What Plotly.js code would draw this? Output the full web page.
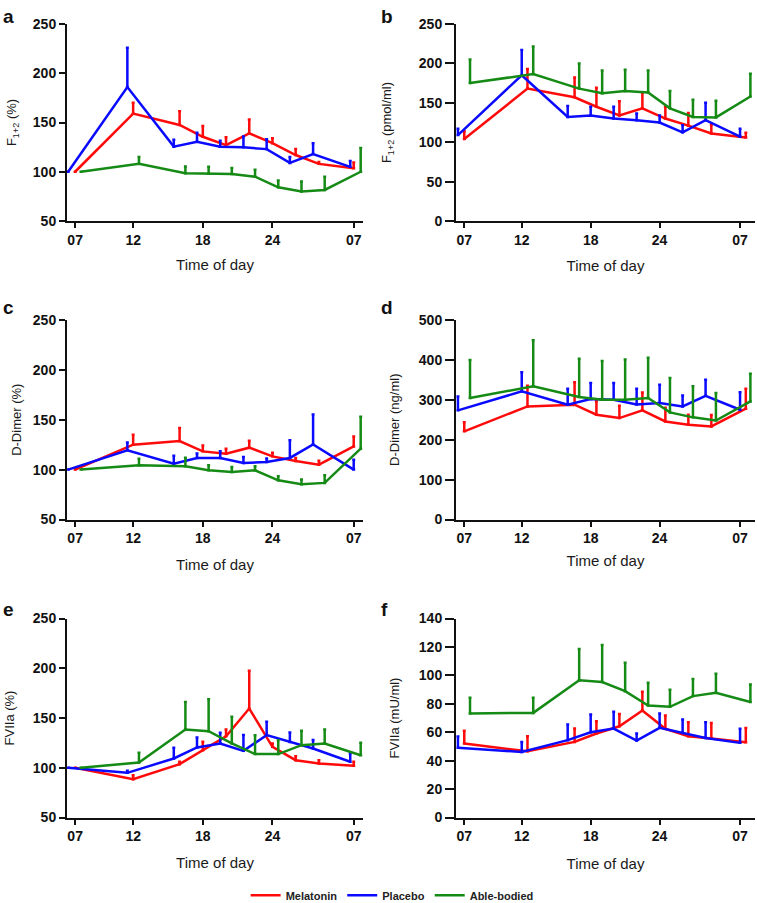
<!DOCTYPE html>
<html>
<head>
<meta charset="utf-8">
<script src="https://cdn.plot.ly/plotly-3.0.1.min.js"></script>
<style>html,body{margin:0;padding:0;background:#fff;}#chart{width:757px;height:903px;}</style>
</head>
<body>
<div id="chart"></div>
<script>
// ---- Data (hours of day, 31 = 07 next morning) ----
const tickVals = [7, 12, 18, 24, 31];
const tickText = ['07', '12', '18', '24', '07'];
const seriesNames = ['Melatonin', 'Placebo', 'Able-bodied'];

// sampling times as drawn (series are slightly dodged in the figure)
const tA_mel = [7, 12, 16, 18, 20, 22, 24, 26, 28, 31];
const tA_pla = [6.4, 11.5, 15.5, 17.5, 19.5, 21.5, 23.5, 25.5, 27.5, 30.7];
const tA_abl = [7.5, 12.5, 16.5, 18.5, 20.5, 22.5, 24.5, 26.5, 28.5, 31.6];
const tC_pla = [6.4, 11.5, 15.5, 17.5, 19.5, 21.5, 23.5, 25.5, 27.5, 31.0];
const tB_mel = [7, 12.5, 16.6, 18.5, 20.5, 22.5, 24.5, 26.5, 28.5, 31.5];
const tB_pla = [6.45, 12, 16, 18, 20, 22, 24, 26, 28, 31];
const tB_abl = [7.5, 13, 17, 19, 21, 23, 24.9, 26.9, 28.9, 31.9];

// a: F1+2 (%)
const a_mel = [100, 159, 147.5, 135.5, 127, 139, 129, 117, 108, 103.5];
const a_mel_err = [0, 11, 14, 11, 8, 14, 5, 6, 2, 6];
const a_pla = [100, 186, 125.5, 130.5, 125.5, 124.8, 123, 109, 118, 105];
const a_pla_err = [0, 40, 7, 9, 6, 11, 10, 6, 11, 6];
const a_abl = [100, 108, 98.4, 98, 97.7, 95, 84.2, 80, 81.5, 100];
const a_abl_err = [0, 7, 7, 7, 6, 7, 7, 10, 13.5, 24];

// b: F1+2 (pmol/ml)
const b_mel = [104, 168, 157, 145, 134, 143, 130, 121, 111, 106];
const b_mel_err = [10, 25, 25, 24, 18, 20, 15, 16, 11, 6];
const b_pla = [109, 185, 132, 134, 130, 128, 125, 112.5, 128, 107];
const b_pla_err = [8, 32, 14, 11, 15, 8.5, 9, 9, 22, 10];
const b_abl = [175, 186.5, 168, 162, 165, 163, 143, 132, 131.5, 158];
const b_abl_err = [30, 35, 32, 29, 27, 28, 22, 22, 21, 29];

// c: D-Dimer (%)
const c_mel = [100, 125, 128.7, 118.3, 116, 122, 113.3, 108.7, 105, 123.3];
const c_mel_err = [0, 10, 13, 6, 5, 7, 3.5, 3, 4, 10];
const c_pla = [100, 119.3, 106, 111.7, 111.7, 106.7, 107.7, 111.7, 125.3, 100];
const c_pla_err = [0, 8, 8, 4.5, 6.7, 6, 3.5, 17.7, 30, 10];
const c_abl = [100, 104.3, 103.3, 99.3, 97.7, 99.3, 89.3, 85.3, 86.7, 121];
const c_abl_err = [0, 6.7, 8.7, 5, 5, 4, 4, 4.7, 7.7, 32];

// d: D-Dimer (ng/ml)
const d_mel = [221, 283.5, 287.7, 262.6, 254.2, 273.5, 245.8, 237.4, 233.2, 277.7];
const d_mel_err = [23, 52, 56, 34, 31, 45, 34, 25, 29, 50];
const d_pla = [273.5, 321, 288, 302, 300, 288, 292, 283.5, 310, 275];
const d_pla_err = [35, 48, 40, 40, 42, 40, 46, 27, 40, 44];
const d_abl = [304.5, 334, 307, 300, 300, 304.5, 268.4, 256, 248, 296];
const d_abl_err = [95, 115, 96, 97, 101, 101, 86.5, 78, 69, 69];

// e: FVIIa (%)
const e_mel = [100, 88.5, 103.6, 117.7, 131.7, 159.5, 121, 107.6, 104.3, 102];
const e_mel_err = [0, 4, 2.4, 8.4, 6.7, 38, 3.4, 4, 3.3, 4];
const e_pla = [100, 94.9, 109.3, 120.4, 124.4, 117, 132.8, 126, 119.4, 106];
const e_pla_err = [0, 2, 10.7, 10, 10.7, 15.8, 13.4, 9.4, 8.4, 8.4];
const e_abl = [100, 105.3, 138.4, 136.8, 124.4, 113.7, 113.7, 122.7, 124.4, 112.6];
const e_abl_err = [0, 9.7, 27.8, 32, 26.8, 19, 14, 14.4, 14, 12.4];

// f: FVIIa (mU/ml)
const f_mel = [52, 46.6, 53.2, 59.1, 64.2, 75.3, 62.4, 57.2, 55.5, 52.9];
const f_mel_err = [9, 10.6, 9.4, 8.7, 8.7, 13.2, 9.4, 9.8, 11, 10];
const f_pla = [49, 46.1, 54.4, 60, 62.6, 54.1, 63.1, 59.5, 56, 52.5];
const f_pla_err = [8, 7, 11, 12.5, 11.8, 5, 10, 9.4, 11, 10];
const f_abl = [73.2, 73.6, 96.5, 95.3, 88.9, 78.8, 77.9, 85.4, 87.8, 81.2];
const f_abl_err = [11, 10.6, 22, 26, 20, 16, 12, 12, 13.4, 12.4];

const yTitles = ['F<sub>1+2</sub> (%)', 'F<sub>1+2</sub> (pmol/ml)', 'D-Dimer (%)', 'D-Dimer (ng/ml)', 'FVIIa (%)', 'FVIIa (mU/ml)'];
const yRanges = [[50, 250], [0, 250], [50, 250], [0, 500], [50, 250], [0, 140]];
const yDticks = [50, 50, 50, 100, 50, 20];
const panelLetters = ['a', 'b', 'c', 'd', 'e', 'f'];

// ---- Styles / layout ----
const colors = ['#ff0a0a', '#0a0aff', '#158a15'];
const W = 757, H = 903;
const colDom = [[67 / W, 363 / W], [456 / W, 755 / W]];
const rowDom = [[(H - 221) / H, (H - 24) / H], [(H - 519.5) / H, (H - 320) / H], [(H - 817.5) / H, (H - 618.5) / H]];
const xRanges = [[6.3, 31.8], [6.28, 32.3]];
const xStandoff = [13, 14, 14, 10, 14, 15];
const yStandoff = [13, 24, 8, 16, 15, 16];
const yTickLen = [6, 9];

const panels = [
  {t: [tA_mel, tA_pla, tA_abl], y: [a_mel, a_pla, a_abl], e: [a_mel_err, a_pla_err, a_abl_err]},
  {t: [tB_mel, tB_pla, tB_abl], y: [b_mel, b_pla, b_abl], e: [b_mel_err, b_pla_err, b_abl_err]},
  {t: [tA_mel, tC_pla, tA_abl], y: [c_mel, c_pla, c_abl], e: [c_mel_err, c_pla_err, c_abl_err]},
  {t: [tB_mel, tB_pla, tB_abl], y: [d_mel, d_pla, d_abl], e: [d_mel_err, d_pla_err, d_abl_err]},
  {t: [tA_mel, tA_pla, tA_abl], y: [e_mel, e_pla, e_abl], e: [e_mel_err, e_pla_err, e_abl_err]},
  {t: [tB_mel, tB_pla, tB_abl], y: [f_mel, f_pla, f_abl], e: [f_mel_err, f_pla_err, f_abl_err]}
];

const font = 'Liberation Sans, Arial, Helvetica, sans-serif';
const traces = [];
const layout = {
  width: W, height: H,
  margin: {l: 0, r: 0, t: 0, b: 0, autoexpand: false},
  paper_bgcolor: '#fff', plot_bgcolor: 'rgba(0,0,0,0)',
  font: {family: font, color: '#111'},
  showlegend: true,
  legend: {
    orientation: 'h', x: 0.518, xanchor: 'center', y: -0.0075, yanchor: 'bottom',
    font: {family: font, size: 11, weight: 'bold', color: '#222'},
    itemwidth: 30, tracegroupgap: 0
  },
  annotations: []
};

panels.forEach((p, i) => {
  const n = i + 1;
  const xa = n === 1 ? 'x' : 'x' + n;
  const ya = n === 1 ? 'y' : 'y' + n;
  const col = i % 2, row = Math.floor(i / 2);
  [0, 1, 2].forEach(s => {
    traces.push({
      type: 'scatter', mode: 'lines',
      x: p.t[s], y: p.y[s],
      xaxis: xa, yaxis: ya,
      name: seriesNames[s],
      legendgroup: seriesNames[s],
      legendrank: s + 1,
      showlegend: i === 0,
      line: {color: colors[s], width: 2.5},
      error_y: {type: 'data', symmetric: false, array: p.e[s], arrayminus: p.e[s].map(() => 0),
                color: colors[s], thickness: 2.5, width: 1.5},
      cliponaxis: false,
      hoverinfo: 'x+y'
    });
  });
  const axBase = {
    showgrid: false, zeroline: false, showline: true, linecolor: '#111', linewidth: 2,
    ticks: 'outside', ticklen: 5, tickwidth: 2, tickcolor: '#111',
    tickfont: {family: font, size: 14, weight: 'bold', color: '#111'},
    automargin: false, fixedrange: true
  };
  layout[n === 1 ? 'xaxis' : 'xaxis' + n] = Object.assign({}, axBase, {
    domain: colDom[col], anchor: ya, range: xRanges[col],
    tickmode: 'array', tickvals: tickVals, ticktext: tickText,
    title: {text: 'Time of day', standoff: xStandoff[i], font: {family: font, size: 15, color: '#1a1a1a'}}
  });
  layout[n === 1 ? 'yaxis' : 'yaxis' + n] = Object.assign({}, axBase, {
    domain: rowDom[row], anchor: xa, range: yRanges[i], dtick: yDticks[i], tick0: 0,
    ticklen: yTickLen[col],
    title: {text: yTitles[i], standoff: yStandoff[i], font: {family: font, size: 13, color: '#1a1a1a'}}
  });
  layout.annotations.push({
    text: panelLetters[i], xref: 'paper', yref: 'paper',
    x: col === 0 ? 1 / W : 379 / W,
    y: (H - [4, 295, 597][row]) / H,
    xanchor: 'left', yanchor: 'top', showarrow: false,
    font: {family: font, size: 19, weight: 'bold', color: '#111'}
  });
});

Plotly.newPlot('chart', traces, layout, {displayModeBar: false, staticPlot: true});
</script>
</body>
</html>
